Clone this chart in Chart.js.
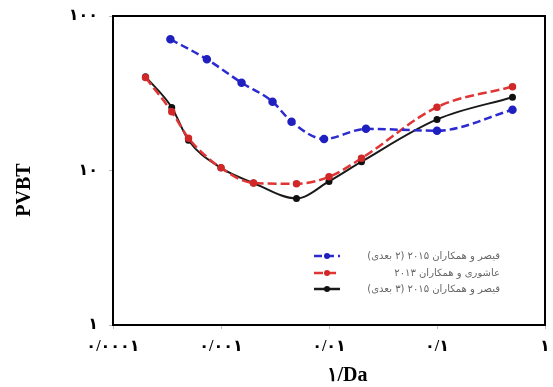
<!DOCTYPE html>
<html>
<head>
<meta charset="utf-8">
<script src="https://cdn.jsdelivr.net/npm/chart.js@4"></script>
<style>
  html, body { margin: 0; padding: 0; background: #fff; }
  #wrap { width: 553px; height: 387px; }
</style>
</head>
<body>
<div id="wrap"><canvas id="chart" width="553" height="387"></canvas></div>
<script>
// data (x = 1/Da, y = PVBT)
const blueX = [0.00034, 0.00074, 0.00155, 0.003, 0.0045, 0.009, 0.022, 0.1, 0.5];
const blueY = [70.7, 52.5, 37, 27.9, 20.7, 16, 18.6, 18.1, 24.7];
const redX = [0.0002, 0.00035, 0.0005, 0.001, 0.002, 0.005, 0.01, 0.02, 0.1, 0.5];
const redY = [40, 24, 16.2, 10.4, 8.3, 8.2, 9.1, 12, 25.7, 34.9];
const blackX = [0.0002, 0.00035, 0.0005, 0.001, 0.002, 0.005, 0.01, 0.02, 0.1, 0.5];
const blackY = [40.5, 25.6, 15.7, 10.4, 8.3, 6.6, 8.5, 11.4, 21.4, 29.8];

const seriesLabels = [
  'قیصر و همکاران ۲۰۱۵ (۲ بعدی)',
  'عاشوری و همکاران ۲۰۱۳',
  'قیصر و همکاران ۲۰۱۵ (۳ بعدی)'
];

const xTickValues = [0.0001, 0.001, 0.01, 0.1, 1];
const xTickLabels = ['۰/۰۰۰۱', '۰/۰۰۱', '۰/۰۱', '۰/۱', '۱'];
const yTickValues = [1, 10, 100];
const yTickLabels = ['۱', '۱۰', '۱۰۰'];

const xTitle = '۱/Da';
const yTitle = 'PVBT';

function pts(xs, ys) {
  return xs.map((x, i) => ({ x: x, y: ys[i] }));
}

const tickFont = { family: "'Liberation Serif', 'DejaVu Sans', serif", size: 16, weight: 'bold' };

// frame, titles and the legend inside the plot
const extras = {
  id: 'extras',
  afterDraw(chart) {
    const ctx = chart.ctx;
    const a = chart.chartArea;
    ctx.save();
    ctx.strokeStyle = '#000';
    ctx.lineWidth = 2;
    ctx.strokeRect(a.left, a.top, a.right - a.left, a.bottom - a.top);

    ctx.fillStyle = '#000';
    ctx.font = "bold 20px 'Liberation Serif', serif";
    ctx.textAlign = 'center';
    ctx.textBaseline = 'middle';
    ctx.fillText(xTitle, 347, 376);
    ctx.save();
    ctx.translate(25, 190);
    ctx.rotate(-Math.PI / 2);
    ctx.fillText(yTitle, 0, 0);
    ctx.restore();

    const rows = [256, 273, 289];
    chart.data.datasets.forEach((ds, i) => {
      const y = rows[i];
      ctx.save();
      ctx.strokeStyle = ds.borderColor;
      ctx.lineWidth = 2.5;
      ctx.setLineDash(ds.borderDash || []);
      ctx.beginPath();
      ctx.moveTo(314, y);
      ctx.lineTo(340, y);
      ctx.stroke();
      ctx.setLineDash([]);
      ctx.fillStyle = ds.pointBackgroundColor;
      ctx.beginPath();
      ctx.arc(327, y, 3, 0, Math.PI * 2);
      ctx.fill();
      ctx.restore();

      ctx.fillStyle = '#666';
      ctx.font = "10px 'DejaVu Sans', sans-serif";
      ctx.direction = 'rtl';
      ctx.textAlign = 'right';
      ctx.fillText(ds.label, 500, y);
    });
    ctx.restore();
  }
};

new Chart(document.getElementById('chart'), {
  type: 'line',
  data: {
    datasets: [
      {
        label: seriesLabels[0],
        data: pts(blueX, blueY),
        borderColor: '#2b2bd0',
        pointBackgroundColor: '#2020c0',
        pointBorderColor: '#2020c0',
        borderDash: [8, 4],
        borderWidth: 2.5,
        pointRadius: 3
      },
      {
        label: seriesLabels[1],
        data: pts(redX, redY),
        borderColor: '#e03535',
        pointBackgroundColor: '#d02828',
        pointBorderColor: '#d02828',
        borderDash: [9, 4],
        borderWidth: 2.5,
        pointRadius: 2.5
      },
      {
        label: seriesLabels[2],
        data: pts(blackX, blackY),
        borderColor: '#1a1a1a',
        pointBackgroundColor: '#111',
        pointBorderColor: '#111',
        borderWidth: 2,
        pointRadius: 2.5
      }
    ]
  },
  options: {
    responsive: false,
    animation: false,
    layout: { padding: { top: 16, right: 8, left: 0, bottom: 0 } },
    plugins: {
      legend: { display: false },
      tooltip: { enabled: false }
    },
    elements: { line: { cubicInterpolationMode: 'monotone' } },
    scales: {
      x: {
        type: 'logarithmic',
        min: 0.0001,
        max: 1,
        afterFit(scale) {
          scale.height = 62;
          scale.paddingLeft = 0;
          scale.paddingRight = 0;
        },
        afterBuildTicks(scale) { scale.ticks = xTickValues.map(v => ({ value: v })); },
        grid: { drawOnChartArea: false, drawTicks: true, tickLength: 4, color: '#bbb' },
        border: { display: false },
        ticks: {
          autoSkip: false,
          maxRotation: 0,
          padding: 8,
          color: '#000',
          font: tickFont,
          callback: (v, i) => xTickLabels[i]
        }
      },
      y: {
        type: 'logarithmic',
        min: 1,
        max: 100,
        afterFit(scale) {
          scale.width = 113;
          scale.paddingTop = 0;
          scale.paddingBottom = 0;
        },
        afterBuildTicks(scale) { scale.ticks = yTickValues.map(v => ({ value: v })); },
        grid: { drawOnChartArea: false, drawTicks: true, tickLength: 4, color: '#bbb' },
        border: { display: false },
        ticks: {
          autoSkip: false,
          padding: 11,
          color: '#000',
          font: tickFont,
          callback: (v, i) => yTickLabels[i]
        }
      }
    }
  },
  plugins: [extras]
});
</script>
</body>
</html>
